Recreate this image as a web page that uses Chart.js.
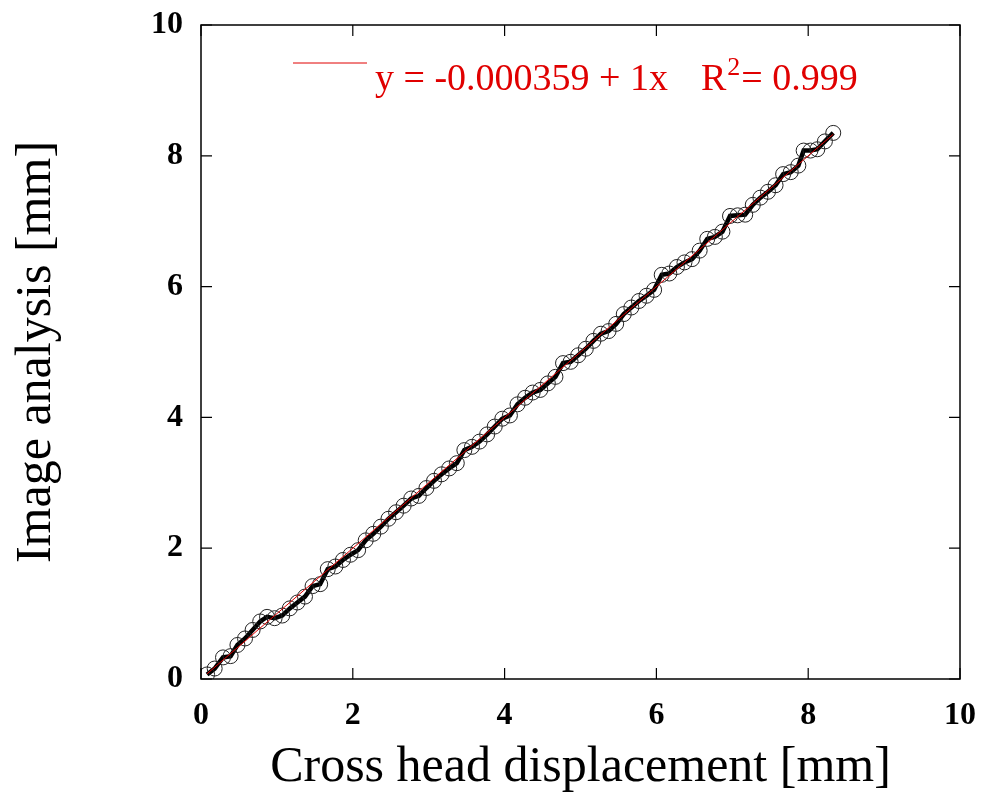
<!DOCTYPE html>
<html>
<head>
<meta charset="utf-8">
<script src="https://cdn.jsdelivr.net/npm/chart.js@4.4.1/dist/chart.umd.min.js"></script>
<style>
  html, body { margin: 0; padding: 0; background: #fff; }
  #wrap { width: 982px; height: 800px; }
</style>
</head>
<body>
<div id="wrap"><canvas id="c" width="982" height="800"></canvas></div>
<script>
/* measured points: cross head displacement vs image analysis (mm) */
var crossHead = [0.08, 0.18, 0.29, 0.39, 0.48, 0.58, 0.68, 0.78, 0.87, 0.97,
  1.07, 1.17, 1.27, 1.37, 1.47, 1.57, 1.67, 1.77, 1.87, 1.97,
  2.07, 2.17, 2.27, 2.37, 2.47, 2.57, 2.67, 2.77, 2.87, 2.97,
  3.07, 3.17, 3.27, 3.37, 3.47, 3.57, 3.67, 3.77, 3.87, 3.97,
  4.07, 4.17, 4.27, 4.37, 4.47, 4.57, 4.67, 4.77, 4.87, 4.97,
  5.07, 5.17, 5.27, 5.37, 5.47, 5.57, 5.67, 5.77, 5.87, 5.97,
  6.07, 6.17, 6.27, 6.37, 6.47, 6.57, 6.67, 6.77, 6.87, 6.97,
  7.07, 7.17, 7.27, 7.37, 7.47, 7.57, 7.67, 7.77, 7.87, 7.94,
  8.03, 8.12, 8.22, 8.33];
var imageAnalysis = [0.07, 0.16, 0.33, 0.35, 0.52, 0.62, 0.75, 0.88, 0.95, 0.93,
  0.97, 1.08, 1.17, 1.26, 1.42, 1.45, 1.68, 1.72, 1.82, 1.90,
  1.97, 2.12, 2.22, 2.33, 2.45, 2.55, 2.65, 2.76, 2.80, 2.92,
  3.03, 3.13, 3.22, 3.30, 3.50, 3.55, 3.63, 3.74, 3.86, 3.98,
  4.03, 4.20, 4.30, 4.38, 4.42, 4.52, 4.62, 4.83, 4.85, 4.95,
  5.05, 5.17, 5.28, 5.32, 5.43, 5.58, 5.68, 5.78, 5.86, 5.95,
  6.18, 6.20, 6.30, 6.37, 6.42, 6.55, 6.73, 6.76, 6.84, 7.08,
  7.09, 7.10, 7.25, 7.36, 7.45, 7.55, 7.72, 7.75, 7.85, 8.08,
  8.08, 8.10, 8.22, 8.35];

/* linear fit y = a + b x */
var fitA = -0.000359;
var fitB = 1;
var fitRange = [0.08, 8.33];

var xTicks = [0, 2, 4, 6, 8, 10];
var yTicks = [0, 2, 4, 6, 8, 10];

var SERIF = "'Liberation Serif', 'DejaVu Serif', serif";
var RED = "#e00000";

var points = crossHead.map(function (x, i) { return { x: x, y: imageAnalysis[i] }; });
var fitLine = fitRange.map(function (x) { return { x: x, y: fitA + fitB * x }; });

/* frame, inward ticks on all four sides, and the fit legend */
var framePlugin = {
  id: "frame",
  afterDatasetsDraw: function (chart) {
    var ctx = chart.ctx, a = chart.chartArea;
    var xs = chart.scales.x, ys = chart.scales.y;
    var tl = 11;
    ctx.save();
    ctx.strokeStyle = "#000";
    ctx.lineWidth = 1.5;
    ctx.strokeRect(a.left, a.top, a.right - a.left, a.bottom - a.top);
    ctx.lineWidth = 1.2;
    ctx.beginPath();
    xTicks.forEach(function (v) {
      var px = xs.getPixelForValue(v);
      ctx.moveTo(px, a.bottom); ctx.lineTo(px, a.bottom - tl);
      ctx.moveTo(px, a.top); ctx.lineTo(px, a.top + tl);
    });
    yTicks.forEach(function (v) {
      var py = ys.getPixelForValue(v);
      ctx.moveTo(a.left, py); ctx.lineTo(a.left + tl, py);
      ctx.moveTo(a.right, py); ctx.lineTo(a.right - tl, py);
    });
    ctx.stroke();

    /* legend */
    ctx.strokeStyle = RED;
    ctx.lineWidth = 1;
    ctx.beginPath();
    ctx.moveTo(293, 63); ctx.lineTo(367, 63);
    ctx.stroke();
    ctx.fillStyle = RED;
    ctx.textBaseline = "alphabetic";
    ctx.textAlign = "left";
    ctx.font = "38px " + SERIF;
    var s1 = "y = " + fitA.toFixed(6) + " + " + fitB + "x";
    ctx.fillText(s1, 375, 90);
    var rx = 375 + ctx.measureText(s1).width + 33;
    ctx.fillText("R", rx, 90);
    var rw = ctx.measureText("R").width;
    ctx.font = "26px " + SERIF;
    ctx.fillText("2", rx + rw + 1, 75);
    var sw = ctx.measureText("2").width;
    ctx.font = "38px " + SERIF;
    ctx.fillText("= 0.999", rx + rw + sw + 2, 90);
    ctx.restore();
  }
};

new Chart(document.getElementById("c"), {
  type: "scatter",
  data: {
    datasets: [
      {
        label: "fit",
        data: fitLine,
        showLine: true,
        borderColor: RED,
        borderWidth: 1,
        pointRadius: 0,
        order: 0
      },
      {
        label: "data",
        data: points,
        showLine: true,
        borderColor: "#000",
        borderWidth: 4.5,
        pointRadius: 7.5,
        pointBorderWidth: 1,
        pointBorderColor: "#222",
        pointBackgroundColor: "rgba(0,0,0,0)",
        order: 1
      }
    ]
  },
  options: {
    responsive: false,
    animation: false,
    layout: { padding: { top: 25, right: 22, left: 0, bottom: 0 } },
    plugins: { legend: { display: false }, tooltip: { enabled: false } },
    scales: {
      x: {
        type: "linear",
        min: 0, max: 10,
        afterFit: function (s) { s.height = 121; s.paddingLeft = 0; s.paddingRight = 0; },
        afterBuildTicks: function (s) { s.ticks = xTicks.map(function (v) { return { value: v }; }); },
        grid: { display: false, drawTicks: false },
        border: { display: false },
        ticks: { color: "#000", padding: 18, maxRotation: 0, font: { family: SERIF, size: 32, weight: "bold" } },
        title: { display: true, text: "Cross head displacement [mm]", color: "#000", padding: { top: 0, bottom: 2 }, font: { family: SERIF, size: 50 } }
      },
      y: {
        type: "linear",
        min: 0, max: 10,
        afterFit: function (s) { s.width = 201; s.paddingTop = 0; s.paddingBottom = 0; },
        afterBuildTicks: function (s) { s.ticks = yTicks.map(function (v) { return { value: v }; }); },
        grid: { display: false, drawTicks: false },
        border: { display: false },
        ticks: { color: "#000", padding: 18, font: { family: SERIF, size: 32, weight: "bold" } },
        title: { display: true, text: "Image analysis [mm]", color: "#000", padding: { top: 7, bottom: 0 }, font: { family: SERIF, size: 50 } }
      }
    }
  },
  plugins: [framePlugin]
});
</script>
</body>
</html>
